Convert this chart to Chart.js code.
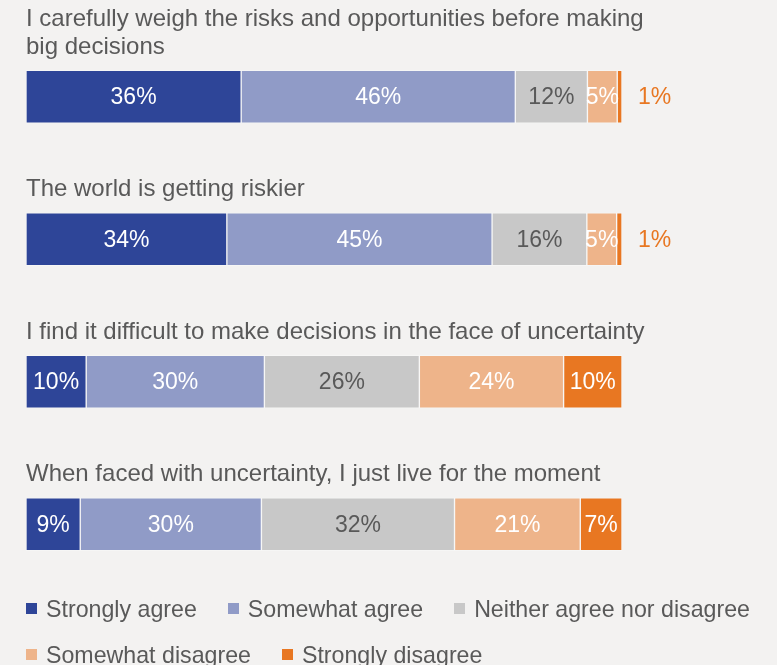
<!DOCTYPE html>
<html>
<head>
<meta charset="utf-8">
<script src="https://cdn.jsdelivr.net/npm/chart.js@4/dist/chart.umd.min.js"></script>
<style>
  body { margin: 0; background: #f3f2f1; width: 777px; height: 665px; overflow: hidden; position: relative; font-family: "Liberation Sans", Arial, sans-serif; }
  #wrap { position: absolute; left: 0; top: 0; width: 777px; height: 600px; }
  #legend { position: absolute; left: 26px; top: 595.5px; width: 751px; display: flex; flex-wrap: wrap; column-gap: 31px; row-gap: 20px; color: #595959; font-size: 23.2px; line-height: 26px; }
  #legend .item { display: flex; align-items: center; white-space: nowrap; }
  #legend .box { width: 11px; height: 11px; margin-right: 9px; }
</style>
</head>
<body>
<div id="wrap"><canvas id="surveyChart" width="777" height="600"></canvas></div>
<div id="legend"></div>
<script>
// questions (one per bar), split into lines as in the original
var questions = [
  ["I carefully weigh the risks and opportunities before making", "big decisions"],
  ["The world is getting riskier"],
  ["I find it difficult to make decisions in the face of uncertainty"],
  ["When faced with uncertainty, I just live for the moment"]
];

var seriesNames = ["Strongly agree", "Somewhat agree", "Neither agree nor disagree", "Somewhat disagree", "Strongly disagree"];

// share of respondents, %
var stronglyAgree     = [36.1, 33.7, 10.1, 9.1];
var somewhatAgree     = [46.0, 44.5, 29.9, 30.4];
var neither           = [12.1, 15.9, 26.0, 32.4];
var somewhatDisagree  = [5.0, 5.0, 24.2, 21.1];
var stronglyDisagree  = [0.8, 0.9, 9.8, 7.0];

var colors = ["#2e4598", "#909bc7", "#c8c8c8", "#eeb48a", "#e87722"];
var labelColors = ["#ffffff", "#ffffff", "#595959", "#ffffff", "#ffffff"];
var textGrey = "#595959";
var font = '"Liberation Sans", Arial, sans-serif';

var allSeries = [stronglyAgree, somewhatAgree, neither, somewhatDisagree, stronglyDisagree];
var datasets = [];
for (var i in allSeries) {
  datasets.push({
    label: seriesNames[i],
    data: allSeries[i],
    backgroundColor: colors[i],
    borderColor: "rgba(255,255,255,0.3)",
    borderWidth: 1,
    borderSkipped: false,
    barThickness: 53
  });
}

// percentage labels on the segments, small ones go outside the bar
var valueLabels = {
  id: "valueLabels",
  afterDatasetsDraw: function (chart) {
    var ctx = chart.ctx;
    ctx.save();
    ctx.font = "23px " + font;
    ctx.textBaseline = "middle";
    chart.data.datasets.forEach(function (ds, d) {
      var meta = chart.getDatasetMeta(d);
      meta.data.forEach(function (bar, j) {
        var v = ds.data[j];
        var txt = Math.round(v) + "%";
        if (v < 3) {
          ctx.textAlign = "left";
          ctx.fillStyle = colors[d];
          ctx.fillText(txt, bar.x + 16, bar.y + 1);
        } else {
          ctx.textAlign = "center";
          ctx.fillStyle = labelColors[d];
          ctx.fillText(txt, (bar.x + bar.base) / 2, bar.y + 1);
        }
      });
    });
    ctx.restore();
  }
};

// question text above each bar
var questionLabels = {
  id: "questionLabels",
  afterDraw: function (chart) {
    var ctx = chart.ctx;
    var yScale = chart.scales.y;
    ctx.save();
    ctx.font = "24px " + font;
    ctx.fillStyle = textGrey;
    ctx.textAlign = "left";
    ctx.textBaseline = "alphabetic";
    chart.data.labels.forEach(function (lines, i) {
      var barTop = yScale.getPixelForValue(i) - 26.5;
      for (var k = 0; k < lines.length; k++) {
        var y = barTop - 16.5 - (lines.length - 1 - k) * 27.6;
        ctx.fillText(lines[k], chart.chartArea.left, y);
      }
    });
    ctx.restore();
  }
};

var ctx = document.getElementById("surveyChart");
var chart = new Chart(ctx, {
  type: "bar",
  data: {
    labels: questions,
    datasets: datasets
  },
  options: {
    indexAxis: "y",
    responsive: false,
    animation: false,
    layout: { padding: { left: 26, right: 155, top: 25.5, bottom: 4.5 } },
    scales: {
      x: { stacked: true, min: 0, max: 100, display: false },
      y: { stacked: true, display: false }
    },
    plugins: {
      legend: { display: false },
      tooltip: { enabled: false }
    }
  },
  plugins: [valueLabels, questionLabels]
});

// html legend from the datasets
var legend = document.getElementById("legend");
chart.data.datasets.forEach(function (ds) {
  var item = document.createElement("div");
  item.className = "item";
  var box = document.createElement("span");
  box.className = "box";
  box.style.background = ds.backgroundColor;
  item.appendChild(box);
  item.appendChild(document.createTextNode(ds.label));
  legend.appendChild(item);
});
</script>
</body>
</html>
